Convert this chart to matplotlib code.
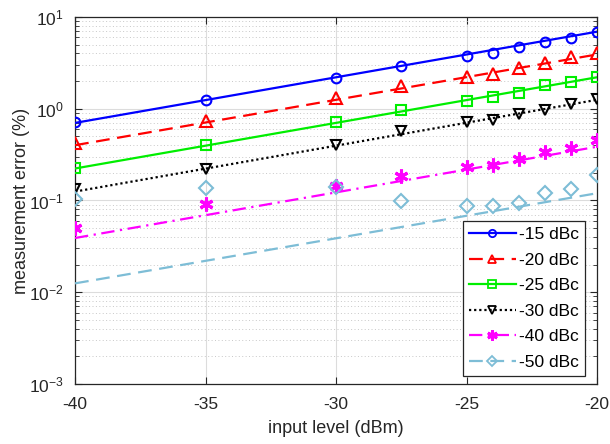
import numpy as np
import matplotlib

matplotlib.use("Agg")
import matplotlib.pyplot as plt
from matplotlib.lines import Line2D
from matplotlib.ticker import LogLocator, NullFormatter

plt.rcParams["font.family"] = ["Liberation Sans", "DejaVu Sans"]
plt.rcParams["axes.unicode_minus"] = False

# ── Data ──────────────────────────────────────────────────────────────────────
# measured points (input level in dBm)
X_MEAS = [-40, -35, -30, -27.5, -25, -24, -23, -22, -21, -20]
ERR_15 = [0.71, 1.23, 2.16, 2.88, 3.71, 4.09, 4.68, 5.31, 5.96, 6.76]
ERR_20 = [0.42, 0.73, 1.31, 1.75, 2.24, 2.40, 2.77, 3.14, 3.65, 4.09]
ERR_25 = [0.224, 0.406, 0.71, 0.96, 1.22, 1.34, 1.50, 1.79, 1.93, 2.19]
ERR_30 = [0.135, 0.22, 0.40, 0.57, 0.71, 0.75, 0.88, 0.96, 1.12, 1.27]
ERR_40 = [0.050, 0.091, 0.145, 0.184, 0.232, 0.246, 0.284, 0.335, 0.374, 0.46]
ERR_50 = [0.104, 0.137, 0.141, 0.098, 0.087, 0.087, 0.093, 0.121, 0.132, 0.188]

# theoretical curves, straight on the log axis: end values at -40 and -20 dBm
X_THEORY = [-40, -20]
TH_15 = [0.70, 6.9]
TH_20 = [0.40, 3.9]
TH_25 = [0.223, 2.2]
TH_30 = [0.125, 1.25]
TH_40 = [0.039, 0.385]
TH_50 = [0.0125, 0.12]

LABELS = ["-15 dBc", "-20 dBc", "-25 dBc", "-30 dBc", "-40 dBc", "-50 dBc"]

# ── Styles ────────────────────────────────────────────────────────────────────
COLORS = ["#0000ff", "#ff0000", "#00ee00", "#000000", "#ff00ff", "#7dbdd6"]
ASTERISK = (6, 2, 0)
MARKERS = ["o", "^", "s", "v", ASTERISK, "D"]
DASH = (0, (6.2, 3.4))
LSTYLES = ["-", DASH, "-", (0, (1, 1.3)), (0, (6, 2.5, 1, 2.5)), DASH]
MSIZE = [7, 8, 7.5, 7.5, 10, 7.2]
INK = "#262626"

meas = [ERR_15, ERR_20, ERR_25, ERR_30, ERR_40, ERR_50]
theory = [TH_15, TH_20, TH_25, TH_30, TH_40, TH_50]

fig = plt.figure(figsize=(6.10, 4.44), dpi=100)
ax = fig.add_axes([0.123, 0.135, 0.856, 0.827])

for yth, ym, c, m, ls, ms in zip(theory, meas, COLORS, MARKERS, LSTYLES, MSIZE):
    ax.plot(X_THEORY, yth, color=c, linestyle=ls, linewidth=1.6, zorder=3)
    ax.plot(X_MEAS, ym, linestyle="none", marker=m, markersize=ms,
            markerfacecolor="none", markeredgecolor=c,
            markeredgewidth=2.2 if m == ASTERISK else 1.5, zorder=4)

ax.set_yscale("log")
ax.set_xlim(-40, -20)
ax.set_ylim(1e-3, 1e1)
ax.set_xticks([-40, -35, -30, -25, -20])
ax.yaxis.set_major_locator(LogLocator(base=10, numticks=10))
ax.yaxis.set_minor_locator(LogLocator(base=10, subs=np.arange(2, 10), numticks=10))
ax.yaxis.set_minor_formatter(NullFormatter())

ax.grid(which="major", color="#dcdcdc", linewidth=0.8, zorder=0)
ax.grid(which="minor", axis="y", color="#c8c8c8", linewidth=0.7,
        linestyle=(0, (1, 2.5)), zorder=0)
ax.set_axisbelow(True)

ax.tick_params(which="both", direction="in", top=True, right=True, colors=INK,
               labelsize=12.5)
ax.tick_params(which="major", length=5)
ax.tick_params(which="minor", length=3)
ax.tick_params(axis="x", which="major", pad=9)
ax.tick_params(axis="y", which="major", pad=8)
for s in ax.spines.values():
    s.set_color(INK)
    s.set_linewidth(0.9)

ax.set_xlabel("input level (dBm)", fontsize=13, color=INK, labelpad=6)
ax.set_ylabel("measurement error (%)", fontsize=13, color=INK, labelpad=-1)

handles = [
    Line2D([], [], color=c, linestyle=ls, linewidth=1.6, marker=m, markersize=ms * 0.75,
           markerfacecolor="none", markeredgecolor=c,
           markeredgewidth=2.0 if m == ASTERISK else 1.3)
    for c, m, ls, ms in zip(COLORS, MARKERS, LSTYLES, MSIZE)
]
leg = ax.legend(handles, LABELS, loc="lower right", bbox_to_anchor=(0.977, 0.022),
                borderaxespad=0, fontsize=12.5, handlelength=2.7, handletextpad=0.2,
                labelspacing=0.6, borderpad=0.35, fancybox=False, framealpha=1,
                edgecolor=INK)
leg.get_frame().set_linewidth(0.9)
for t in leg.get_texts():
    t.set_color("#000000")

fig.savefig("out.png", dpi=100, facecolor="white")
